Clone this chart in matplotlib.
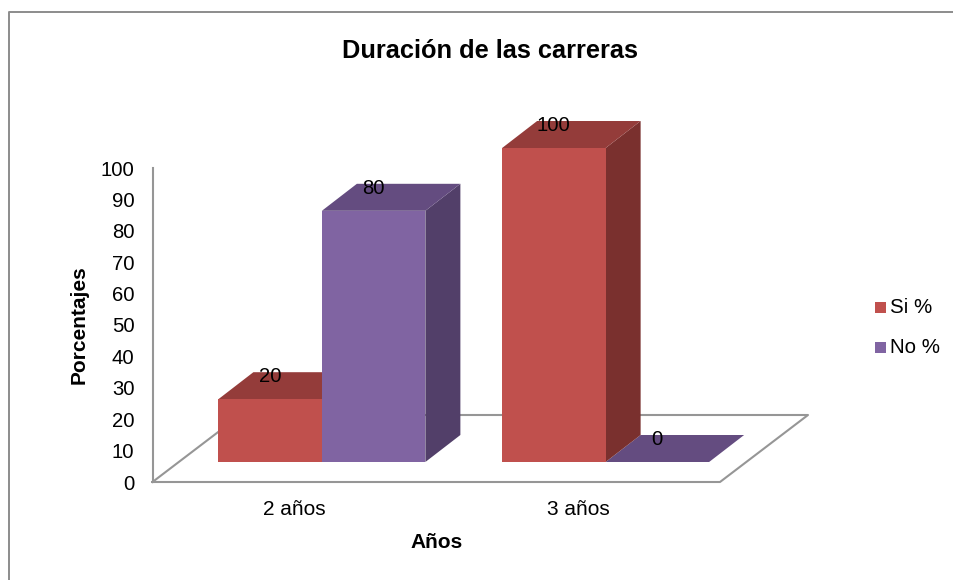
import matplotlib
import matplotlib.pyplot as plt
from matplotlib.lines import Line2D
from matplotlib.patches import Polygon, Rectangle

matplotlib.use('Agg')
plt.rcParams['font.family'] = ['Liberation Sans', 'DejaVu Sans']

# Chart data
categories = ['2 años', '3 años']
si_values = [20, 100]
no_values = [80, 0]
y_ticks = [0, 10, 20, 30, 40, 50, 60, 70, 80, 90, 100]

W, H = 954, 580
RED = ('#C0504D', '#943C3A', '#7A302E')
PURPLE = ('#8064A2', '#644C80', '#523F69')
GRID = '#969696'

fig = plt.figure(figsize=(W / 100, H / 100), dpi=100)

# Outer chart frame, only left and top are inside the picture
fig.add_artist(Line2D([9 / W, 9 / W, 1], [0, 1 - 12 / H, 1 - 12 / H],
                      color='#8C8C8C', linewidth=1.4, transform=fig.transFigure))

# Axes placed on the front plane of the 3D floor
ax = fig.add_axes([152.5 / W, 1 - 482 / H, 567.5 / W, 314 / H])
ax.set_xlim(0, 2)
ax.set_ylim(0, 100)
px_x = 2 / 567.5
px_y = 100 / 314

for side in ['top', 'right', 'bottom']:
    ax.spines[side].set_visible(False)
ax.spines['left'].set_color(GRID)
ax.spines['left'].set_linewidth(1.5)

ax.set_xticks([i + 0.5 for i in range(len(categories))])
ax.set_xticklabels(categories, fontsize=15)
ax.set_yticks(y_ticks)
ax.tick_params(axis='y', length=0, pad=13, labelsize=14.6)
ax.tick_params(axis='x', length=0, pad=13)
ax.set_ylabel('Porcentajes', fontsize=15, fontweight='bold', labelpad=9)
ax.set_xlabel('Años', fontsize=15, fontweight='bold', labelpad=10)

# Floor of the 3D chart
floor_dx = 88 * px_x
floor_dy = 67 * px_y
ax.plot([0, 2, 2 + floor_dx, floor_dx, 0],
        [0, 0, floor_dy, floor_dy, 0],
        color=GRID, linewidth=1.5, clip_on=False, zorder=1)

# 3D bars
bar_w = 103.5 * px_x
depth_x = 35 * px_x
depth_y = 27 * px_y
base_y = 20 * px_y
shift_x = 27.5 * px_x


def draw_bar(x0, value, colors, zorder):
    top = base_y + value
    face = [(x0, base_y), (x0 + bar_w, base_y), (x0 + bar_w, top), (x0, top)]
    lid = [(x0, top), (x0 + bar_w, top),
           (x0 + bar_w + depth_x, top + depth_y), (x0 + depth_x, top + depth_y)]
    side = [(x0 + bar_w, base_y), (x0 + bar_w + depth_x, base_y + depth_y),
            (x0 + bar_w + depth_x, top + depth_y), (x0 + bar_w, top)]
    for pts, col in zip([side, lid, face], [colors[2], colors[1], colors[0]]):
        ax.add_patch(Polygon(pts, closed=True, facecolor=col, edgecolor='none',
                             clip_on=False, zorder=zorder))
    ax.text(x0 + bar_w / 2, top + depth_y - 4.5 * px_y, str(value), fontsize=14.6,
            ha='center', va='center', color='black', clip_on=False, zorder=10)


for i in range(len(categories)):
    left = i + 0.5 + shift_x - bar_w
    draw_bar(left, si_values[i], RED, 3)
    draw_bar(left + bar_w, no_values[i], PURPLE, 4 if i == 0 else 2)

fig.text(490 / W, 1 - 51.5 / H, 'Duración de las carreras', fontsize=18.3,
         fontweight='bold', ha='center', va='center')

# Legend
for label, col, y in [('Si %', RED[0], 307.5), ('No %', PURPLE[0], 347.5)]:
    fig.add_artist(Rectangle((875 / W, 1 - (y + 5) / H), 11 / W, 11 / H,
                             facecolor=col, edgecolor='none',
                             transform=fig.transFigure))
    fig.text(890 / W, 1 - y / H, label, fontsize=14.8, ha='left', va='center')

plt.savefig('out.png', dpi=100)
plt.close()
